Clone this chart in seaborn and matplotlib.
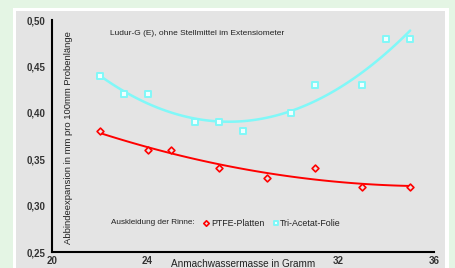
import matplotlib
matplotlib.use("Agg")
import matplotlib.pyplot as plt
import seaborn as sns
import numpy as np
import pandas as pd
from matplotlib.patches import Rectangle
from matplotlib.ticker import MultipleLocator, FixedLocator

# data
ptfe_x = [22, 24, 25, 27, 29, 31, 33, 35]
ptfe_y = [0.38, 0.36, 0.36, 0.34, 0.33, 0.34, 0.32, 0.32]
tri_x = [22, 23, 24, 26, 27, 28, 30, 31, 33, 34, 35]
tri_y = [0.44, 0.42, 0.42, 0.39, 0.39, 0.38, 0.40, 0.43, 0.43, 0.48, 0.48]
x_ticks = [20, 24, 28, 32, 36]
x_ticklabels = ["20", "24", "", "32", "36"]
y_ticks = [0.25, 0.30, 0.35, 0.40, 0.45, 0.50]
y_ticklabels = ["0,25", "0,30", "0,35", "0,40", "0,45", "0,50"]
title = "Ludur-G (E), ohne Stellmittel im Extensiometer"
xlabel = "Anmachwassermasse in Gramm"
ylabel = "Abbindeexpansion in mm pro 100mm Probenlänge"
legend_title = "Auskleidung der Rinne:"
labels = ["PTFE-Platten", "Tri-Acetat-Folie"]

sns.set_theme(style="white")
plt.rcParams["font.family"] = ["Liberation Sans", "DejaVu Sans"]

W, H = 455, 268
fig = plt.figure(figsize=(W / 100, H / 100), dpi=100)
fig.patch.set_facecolor("#e4f5e4")
# white frame and grey panel
fig.add_artist(Rectangle((13 / W, 0), (449 - 13) / W, (H - 8) / H,
                         transform=fig.transFigure, facecolor="white",
                         edgecolor="none", zorder=-2))
fig.add_artist(Rectangle((16 / W, 0), (445 - 16) / W, (H - 11) / H,
                         transform=fig.transFigure, facecolor="#e4e4e4",
                         edgecolor="none", zorder=-1))

ax = fig.add_axes([52 / W, (H - 252) / H, (434 - 52) / W, (252 - 20) / H])
ax.set_facecolor("none")
ax.set_zorder(5)

red = "#ff0000"
cyan = "#80f8f8"

df_p = pd.DataFrame({"x": ptfe_x, "y": ptfe_y})
df_t = pd.DataFrame({"x": tri_x, "y": tri_y})

sns.regplot(data=df_t, x="x", y="y", order=2, ci=None, scatter=False,
            truncate=True, ax=ax, line_kws=dict(color=cyan, lw=1.8))
sns.regplot(data=df_p, x="x", y="y", order=2, ci=None, scatter=False,
            truncate=True, ax=ax, line_kws=dict(color=red, lw=1.4))

ax.scatter(tri_x, tri_y, marker="s", s=18, facecolor="#f0ffff",
           edgecolor=cyan, linewidth=1.4, zorder=5, label=labels[1])
ax.scatter(ptfe_x, ptfe_y, marker="D", s=12, facecolor="#e4e4e4",
           edgecolor=red, linewidth=1.2, zorder=5, label=labels[0])

ax.set_xlim(20, 36)
ax.set_ylim(0.25, 0.50)
ax.xaxis.set_major_locator(FixedLocator(x_ticks))
ax.set_xticklabels(x_ticklabels)
ax.xaxis.set_minor_locator(MultipleLocator(1))
ax.yaxis.set_major_locator(FixedLocator(y_ticks))
ax.set_yticklabels(y_ticklabels)
ax.yaxis.set_minor_locator(MultipleLocator(0.025))

for s in ["top", "right"]:
    ax.spines[s].set_visible(False)
for s in ["left", "bottom"]:
    ax.spines[s].set_color("black")
    ax.spines[s].set_linewidth(1.5)

ax.tick_params(axis="both", which="major", direction="out", length=3,
               width=1.2, color="black", labelsize=7, pad=1.5,
               labelcolor="#333333")
ax.tick_params(axis="x", which="major", length=3, direction="inout")
ax.tick_params(axis="both", which="minor", direction="in", length=2,
               width=1.0, color="black")
ax.tick_params(axis="x", which="minor", direction="in", length=2)
for lab in ax.get_xticklabels() + ax.get_yticklabels():
    lab.set_fontweight("bold")

ax.set_xlabel("")
ax.set_ylabel("")
ax.text(0.5, -0.05, xlabel, transform=ax.transAxes, ha="center", va="center",
        fontsize=7.2, color="#222222")
ax.text(0.042, 0.495, ylabel, transform=ax.transAxes, ha="center",
        va="center", rotation=90, fontsize=6.8, color="#222222")
ax.text(0.152, 0.94, title, transform=ax.transAxes, ha="left", va="center",
        fontsize=6, color="#222222")
ax.text(0.154, 0.125, legend_title, transform=ax.transAxes, ha="left",
        va="center", fontsize=5.9, color="#222222")

handles, labs = ax.get_legend_handles_labels()
order = [labs.index(labels[0]), labs.index(labels[1])]
leg = ax.legend([handles[i] for i in order], [labs[i] for i in order],
                loc="center left", bbox_to_anchor=(0.397, 0.125), ncol=2,
                frameon=False, fontsize=6.4, handlelength=0.6,
                handletextpad=0.2, columnspacing=1.0, borderpad=0,
                borderaxespad=0, markerscale=0.8)
for t in leg.get_texts():
    t.set_color("#222222")

fig.savefig("out.png", dpi=100, facecolor=fig.get_facecolor())
